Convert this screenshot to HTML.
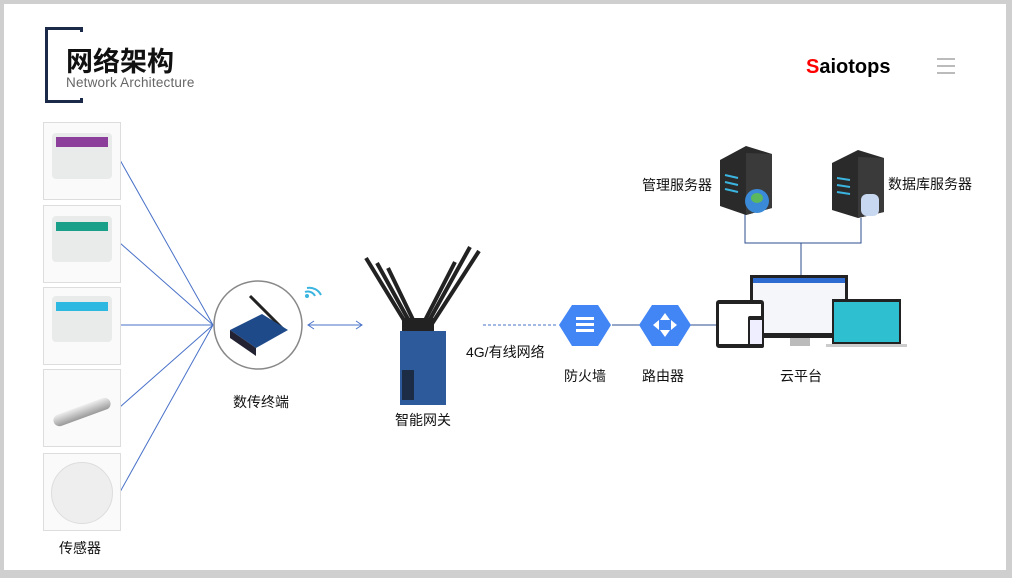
<!DOCTYPE html><html><head><meta charset="utf-8"><style>
body{margin:0;width:1012px;height:578px;background:#cfcfcf;position:relative;overflow:hidden;font-family:"Liberation Sans","Noto Sans CJK SC",sans-serif}
.pg{position:absolute;left:4px;top:4px;width:1002px;height:566px;background:#fff}
.t{position:absolute;font-size:14px;color:#111;white-space:nowrap}
.box{position:absolute;left:43px;width:76px;height:76px;border:1px solid #ddd;background:#fafafa}
.dev{position:absolute;background:#e9ebea;border-radius:4px}
</style></head><body><div class="pg"></div>
<div style="position:absolute;left:45px;top:27px;width:3px;height:76px;background:#1c2a4a"></div>
<div style="position:absolute;left:45px;top:27px;width:38px;height:3px;background:#1c2a4a"></div>
<div style="position:absolute;left:45px;top:100px;width:38px;height:3px;background:#1c2a4a"></div>
<div style="position:absolute;left:80px;top:27px;width:3px;height:5px;background:#1c2a4a"></div>
<div style="position:absolute;left:80px;top:98px;width:3px;height:5px;background:#1c2a4a"></div>
<div class="t" style="left:66px;top:40px;font-size:27px;font-weight:bold">网络架构</div>
<div class="t" style="left:66px;top:75px;font-size:13.5px;letter-spacing:0.2px;color:#666">Network Architecture</div>
<div class="t" style="left:806px;top:56px;font-size:20px;font-weight:bold;color:#000"><span style="color:#f00">S</span>aiotops</div>
<div style="position:absolute;left:937px;top:58px;width:18px;height:16px;border-top:2px solid #bbb;border-bottom:2px solid #bbb;box-sizing:border-box"></div>
<div style="position:absolute;left:937px;top:65px;width:18px;height:2px;background:#bbb"></div>
<svg style="position:absolute;left:0;top:0" width="1012" height="578">
<g stroke="#4a72c8" stroke-width="1" fill="none">
<line x1="120" y1="160" x2="213" y2="325"/><line x1="120" y1="243" x2="213" y2="325"/><line x1="120" y1="325" x2="213" y2="325"/><line x1="120" y1="407" x2="213" y2="325"/><line x1="120" y1="492" x2="213" y2="325"/>
<line x1="308" y1="325" x2="362" y2="325"/><polyline points="314,321 308,325 314,329"/><polyline points="356,321 362,325 356,329"/>
<line x1="483" y1="325" x2="556" y2="325" stroke-dasharray="3,2"/>
<line x1="612" y1="325" x2="640" y2="325" stroke="#2c4d8f"/><line x1="690" y1="325" x2="716" y2="325" stroke="#2c4d8f"/>
<polyline points="745,213 745,243 861,243 861,218" stroke="#2c4d8f"/><line x1="801" y1="243" x2="801" y2="275" stroke="#2c4d8f"/>
</g>
<circle cx="258" cy="325" r="44" fill="#fff" stroke="#888" stroke-width="1.5"/>
<line x1="250" y1="296" x2="284" y2="330" stroke="#222" stroke-width="3"/>
<polygon points="230,330 262,314 288,330 256,348" fill="#1f4a8a"/><polygon points="230,330 256,348 256,356 230,338" fill="#223"/>
<path d="M305 292 a8 8 0 0 1 10 4 M307 288 a13 13 0 0 1 14 7" stroke="#3bb5e0" stroke-width="2" fill="none"/><circle cx="307" cy="296" r="2" fill="#3bb5e0"/>
<g stroke="#222" stroke-width="4"><line x1="410" y1="330" x2="366" y2="258"/><line x1="414" y1="330" x2="377" y2="263"/><line x1="418" y1="330" x2="388" y2="268"/><line x1="420" y1="330" x2="455" y2="262"/><line x1="424" y1="330" x2="470" y2="247"/><line x1="428" y1="330" x2="479" y2="251"/></g>
<rect x="402" y="318" width="32" height="14" fill="#222"/>
<rect x="400" y="331" width="46" height="74" fill="#2d5a9a"/><rect x="402" y="370" width="12" height="30" fill="#1b2c44"/>
<g fill="#4285f4"><polygon points="572,305 598,305 611,325 598,346 572,346 559,325"/><polygon points="652,305 678,305 691,325 678,346 652,346 639,325"/></g>
<g fill="#fff"><rect x="576" y="317" width="18" height="3"/><rect x="576" y="323" width="18" height="3"/><rect x="576" y="329" width="18" height="3"/>
<polygon points="665,313 670,320 660,320"/><polygon points="665,337 670,330 660,330"/><polygon points="653,325 659,320 659,330"/><polygon points="677,325 671,320 671,330"/></g>
<polygon points="720,160 746,146 772,154 772,208 746,215 720,206" fill="#2a2a2a"/><polygon points="746,153 772,154 772,208 746,215" fill="#3a3a3a"/>
<circle cx="757" cy="201" r="12" fill="#3a8ad8"/><ellipse cx="757" cy="198" rx="6" ry="5" fill="#5cb85c"/>
<polygon points="832,163 858,150 884,158 884,212 858,218 832,210" fill="#2a2a2a"/><polygon points="858,157 884,158 884,212 858,218" fill="#3a3a3a"/>
<rect x="861" y="194" width="18" height="22" rx="6" fill="#c8d8f0"/>
<g stroke="#3bb5e0" stroke-width="2"><line x1="725" y1="175" x2="738" y2="178"/><line x1="725" y1="182" x2="738" y2="185"/><line x1="725" y1="189" x2="738" y2="192"/><line x1="837" y1="178" x2="850" y2="180"/><line x1="837" y1="185" x2="850" y2="187"/><line x1="837" y1="192" x2="850" y2="194"/></g>
<rect x="750" y="275" width="98" height="63" fill="#222"/><rect x="753" y="278" width="92" height="55" fill="#f4f6f9"/><rect x="753" y="278" width="92" height="5" fill="#2d6bd0"/>
<rect x="790" y="338" width="20" height="8" fill="#bbb"/>
<rect x="832" y="299" width="69" height="45" fill="#222"/><rect x="834" y="302" width="65" height="40" fill="#2ec0d0"/><rect x="826" y="344" width="81" height="3" fill="#ccc"/>
<rect x="716" y="300" width="48" height="48" rx="3" fill="#222"/><rect x="719" y="304" width="42" height="40" fill="#fff"/>
<rect x="748" y="316" width="16" height="32" rx="2" fill="#222"/><rect x="750" y="320" width="12" height="24" fill="#eef"/>
</svg>
<div class="box" style="top:122px"><div class="dev" style="left:8px;top:10px;width:60px;height:46px"></div><div style="position:absolute;left:12px;top:14px;width:52px;height:10px;background:#8c3f9a"></div></div>
<div class="box" style="top:205px"><div class="dev" style="left:8px;top:10px;width:60px;height:46px"></div><div style="position:absolute;left:12px;top:16px;width:52px;height:9px;background:#1aa088"></div></div>
<div class="box" style="top:287px"><div class="dev" style="left:8px;top:8px;width:60px;height:46px"></div><div style="position:absolute;left:12px;top:14px;width:52px;height:9px;background:#2cb8e0"></div></div>
<div class="box" style="top:369px"><div style="position:absolute;left:8px;top:36px;width:60px;height:12px;background:linear-gradient(#eee,#999);transform:rotate(-20deg);border-radius:6px"></div></div>
<div class="box" style="top:453px"><div style="position:absolute;left:7px;top:8px;width:60px;height:60px;border-radius:50%;background:#eee;border:1px solid #ddd"></div></div>
<div class="t" style="left:59px;top:538px">传感器</div>
<div class="t" style="left:233px;top:392px">数传终端</div>
<div class="t" style="left:395px;top:410px">智能网关</div>
<div class="t" style="left:466px;top:342px">4G/有线网络</div>
<div class="t" style="left:564px;top:366px">防火墙</div>
<div class="t" style="left:642px;top:366px">路由器</div>
<div class="t" style="left:780px;top:366px">云平台</div>
<div class="t" style="left:642px;top:175px">管理服务器</div>
<div class="t" style="left:888px;top:174px">数据库服务器</div>
</body></html>
